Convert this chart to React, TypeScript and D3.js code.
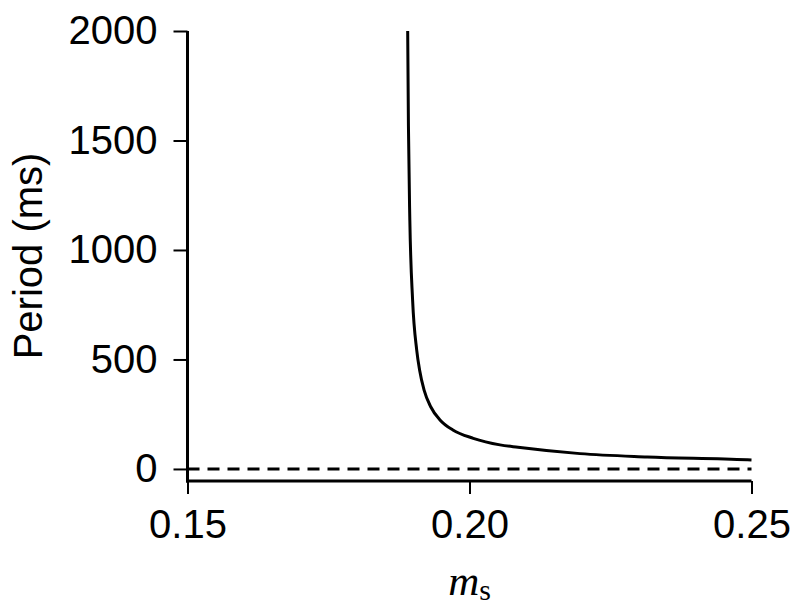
import React, { useEffect, useRef } from 'react';
import * as d3 from 'd3';

// values (m_s, period in ms)
const msValues = [
  0.18904, 0.18917, 0.18942, 0.18991, 0.19064, 0.19115, 0.19195, 0.19312, 0.19477,
  0.19705, 0.20067, 0.20541, 0.2086, 0.2196, 0.2315, 0.2492, 0.25,
];
const periodValues = [2000, 1571, 1137, 772, 543, 452, 360, 284, 224, 178, 140, 110, 99, 70, 55, 42, 41];
const xTicks = [0.15, 0.2, 0.25];
const yTicks = [0, 500, 1000, 1500, 2000];
const zeroLine = [0];

const W = 800;
const H = 615;
const FONT = "'Liberation Sans', Arial, Helvetica, sans-serif";

const App = () => {
  const svgRef = useRef<SVGSVGElement>(null);

  useEffect(() => {
    const svg = d3.select(svgRef.current);
    svg.selectAll('*').remove();

    const margin = { top: 31, right: 48.5, bottom: 134, left: 187.5 };

    const x = d3
      .scaleLinear()
      .domain([0.15, 0.25])
      .range([margin.left, W - margin.right]);

    const y = d3
      .scaleLinear()
      .domain([-55, 2000])
      .range([H - margin.bottom, margin.top]);

    const points = msValues.map((m, i) => [m, periodValues[i]] as [number, number]);

    // dashed zero line
    svg
      .selectAll('.zero')
      .data(zeroLine)
      .enter()
      .append('line')
      .attr('x1', x(0.15))
      .attr('x2', x(0.25))
      .attr('y1', d => y(d))
      .attr('y2', d => y(d))
      .attr('stroke', '#000')
      .attr('stroke-width', 3)
      .attr('stroke-dasharray', '12 8');

    // period curve
    const line = d3
      .line<[number, number]>()
      .x(d => x(d[0]))
      .y(d => y(d[1]))
      .curve(d3.curveMonotoneX);

    svg
      .append('path')
      .datum(points)
      .attr('d', line)
      .attr('fill', 'none')
      .attr('stroke', '#000')
      .attr('stroke-width', 3);

    // y axis
    const yAxis = svg
      .append('g')
      .attr('transform', `translate(${margin.left},0)`)
      .call(d3.axisLeft(y).tickValues(yTicks).tickSize(14).tickPadding(16).tickFormat(d3.format('d')));
    yAxis.select('.domain').remove();
    yAxis.selectAll('.tick line').attr('stroke-width', 2);
    yAxis.selectAll('.tick text').attr('font-size', 40).attr('font-family', FONT).attr('fill', '#000');
    svg
      .append('line')
      .attr('x1', margin.left)
      .attr('x2', margin.left)
      .attr('y1', y(2000))
      .attr('y2', H - margin.bottom + 1.5)
      .attr('stroke', '#000')
      .attr('stroke-width', 3);

    // x axis
    const xAxis = svg
      .append('g')
      .attr('transform', `translate(0,${H - margin.bottom})`)
      .call(d3.axisBottom(x).tickValues(xTicks).tickSize(13).tickPadding(16).tickFormat(d3.format('.2f')));
    xAxis.select('.domain').remove();
    xAxis.selectAll('.tick line').attr('stroke-width', 2);
    xAxis.selectAll('.tick text').attr('font-size', 40).attr('font-family', FONT).attr('fill', '#000');
    svg
      .append('line')
      .attr('x1', x(0.15) - 1.5)
      .attr('x2', x(0.25))
      .attr('y1', H - margin.bottom)
      .attr('y2', H - margin.bottom)
      .attr('stroke', '#000')
      .attr('stroke-width', 3);

    // axis labels
    svg
      .append('text')
      .attr('transform', `translate(42,${(margin.top + H - margin.bottom) / 2}) rotate(-90)`)
      .attr('text-anchor', 'middle')
      .attr('font-size', 40)
      .attr('font-family', FONT)
      .text('Period (ms)');

    const xl = svg
      .append('text')
      .attr('x', (x(0.15) + x(0.25)) / 2)
      .attr('y', 595)
      .attr('text-anchor', 'middle')
      .attr('font-family', "'Liberation Serif', 'Times New Roman', serif");
    xl.append('tspan').attr('font-style', 'italic').attr('font-size', 43).text('m');
    xl.append('tspan').attr('font-size', 30).attr('dy', 5).text('s');
  }, []);

  return <svg ref={svgRef} width={W} height={H} style={{ display: 'block', margin: -8 }} />;
};

export default App;
